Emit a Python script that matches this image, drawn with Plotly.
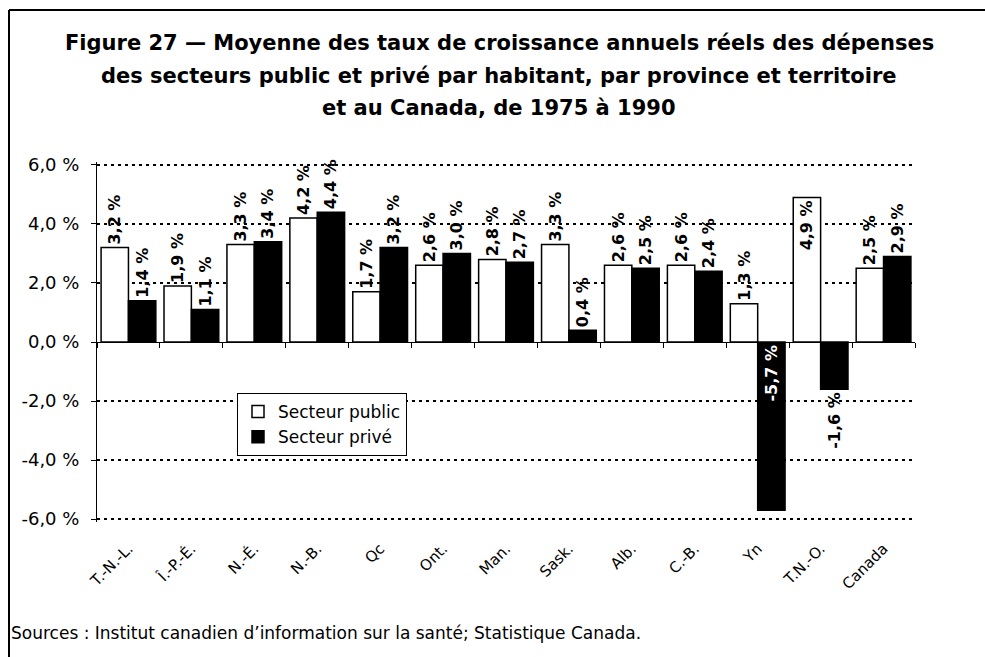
import plotly.graph_objects as go

# ---------------- data ----------------
categories = ["T.-N.-L.", "Î.-P.-É.", "N.-É.", "N.-B.", "Qc", "Ont.", "Man.",
              "Sask.", "Alb.", "C.-B.", "Yn", "T.N.-O.", "Canada"]
public_vals = [3.2, 1.9, 3.3, 4.2, 1.7, 2.6, 2.8, 3.3, 2.6, 2.6, 1.3, 4.9, 2.5]
private_vals = [1.4, 1.1, 3.4, 4.4, 3.2, 3.0, 2.7, 0.4, 2.5, 2.4, -5.7, -1.6, 2.9]
ytick_vals = [-6, -4, -2, 0, 2, 4, 6]
ytick_text = ["-6,0 %", "-4,0 %", "-2,0 %", "0,0 %", "2,0 %", "4,0 %", "6,0 %"]
series_names = ["Secteur public", "Secteur privé"]
title_lines = [
    "Figure 27 \u2014 Moyenne des taux de croissance annuels réels des dépenses",
    "des secteurs public et privé par habitant, par province et territoire",
    "et au Canada, de 1975 à 1990",
]
source_text = "Sources : Institut canadien d\u2019information sur la santé; Statistique Canada."

# ---------------- geometry ----------------
W, H = 985, 657
L, R, T, B = 97, 70, 162, 135
PW, PH = W - L - R, H - T - B
FONT = "DejaVu Sans"
YR = [-6.1, 6.1]


def px(x):
    return (x - L) / PW


def py(y):
    return (H - B - y) / PH


def fmt(v):
    return f"{v:.1f}".replace(".", ",") + " %"


pub_pos = ["inside" if v >= 4.8 else "outside" for v in public_vals]
priv_pos = ["inside" if v <= -3 else "outside" for v in private_vals]

lab = dict(family=FONT, size=16, weight="bold")

fig = go.Figure()
fig.add_trace(go.Bar(
    x=categories, y=public_vals, name=series_names[0], legendgroup="a",
    marker=dict(color="white", line=dict(color="black", width=1.5)),
    text=[fmt(v) for v in public_vals], textposition=pub_pos,
    textangle=-90, insidetextanchor="end", constraintext="none", cliponaxis=False,
    textfont=dict(**lab, color="black"),
    insidetextfont=dict(**lab, color="black"),
    outsidetextfont=dict(**lab, color="black"),
    hoverinfo="skip",
))
fig.add_trace(go.Bar(
    x=categories, y=private_vals, name=series_names[1], legendgroup="b",
    marker=dict(color="black", line=dict(color="black", width=1.5)),
    text=[fmt(v) for v in private_vals], textposition=priv_pos,
    textangle=-90, insidetextanchor="start", constraintext="none", cliponaxis=False,
    textfont=dict(**lab, color="black"),
    insidetextfont=dict(**lab, color="white"),
    outsidetextfont=dict(**lab, color="black"),
    hoverinfo="skip",
))
# helper (invisible) trace so the category tick marks can sit on the zero line
fig.add_trace(go.Scatter(
    x=categories, y=[0] * len(categories), xaxis="x2", mode="markers",
    marker=dict(opacity=0), showlegend=False, hoverinfo="skip",
))

annotations = []
for line, yy in zip(title_lines, [43, 76, 108]):
    annotations.append(dict(
        text="<b>" + line + "</b>", xref="paper", yref="paper",
        x=px(499), y=py(yy), xanchor="center", yanchor="middle",
        showarrow=False, font=dict(family=FONT, size=21, color="black"),
    ))
annotations.append(dict(
    text=source_text, xref="paper", yref="paper", x=px(9), y=py(633),
    xanchor="left", yanchor="middle", showarrow=False,
    font=dict(family=FONT, size=17, color="black"),
))

fig.update_layout(
    width=W, height=H,
    margin=dict(l=L, r=R, t=T, b=B, pad=0),
    paper_bgcolor="white", plot_bgcolor="white",
    barmode="group", bargap=0.13, bargroupgap=0,
    font=dict(family=FONT, color="black"),
    showlegend=True,
    legend=dict(
        x=px(237), y=py(393), xanchor="left", yanchor="top",
        bgcolor="white", bordercolor="black", borderwidth=1,
        font=dict(family=FONT, size=17, color="black"),
        tracegroupgap=14, traceorder="normal",
    ),
    xaxis=dict(
        type="category", categoryorder="array", categoryarray=categories,
        range=[-0.5, len(categories) - 0.5],
        showline=False, showgrid=False, ticks="", zeroline=False,
        tickangle=-45, tickfont=dict(family=FONT, size=15, color="black"),
        ticklabelstandoff=14,
    ),
    xaxis2=dict(
        type="category", categoryorder="array", categoryarray=categories,
        range=[-0.5, len(categories) - 0.5],
        overlaying="x", anchor="free", position=0.5,
        showline=False, showgrid=False, showticklabels=False, zeroline=False,
        ticks="outside", ticklen=5, tickcolor="black", tickwidth=1,
        tickson="boundaries",
    ),
    yaxis=dict(
        range=YR, tickvals=ytick_vals, ticktext=ytick_text,
        showline=True, linecolor="black", linewidth=1,
        ticks="outside", ticklen=5, tickcolor="black",
        tickfont=dict(family=FONT, size=18, color="black"),
        ticklabelstandoff=8,
        showgrid=True, gridcolor="black", gridwidth=2, griddash="3px,4px",
        zeroline=True, zerolinecolor="black", zerolinewidth=1,
    ),
    annotations=annotations,
    shapes=[
        dict(type="line", xref="paper", yref="paper",
             x0=px(9), x1=px(985), y0=py(10), y1=py(10),
             line=dict(color="black", width=2)),
        dict(type="line", xref="paper", yref="paper",
             x0=px(9), x1=px(9), y0=py(10), y1=py(657),
             line=dict(color="black", width=2)),
    ],
)

fig.write_html("out.html", config={"displayModeBar": False},
               post_script="document.body.style.margin='0px';")
